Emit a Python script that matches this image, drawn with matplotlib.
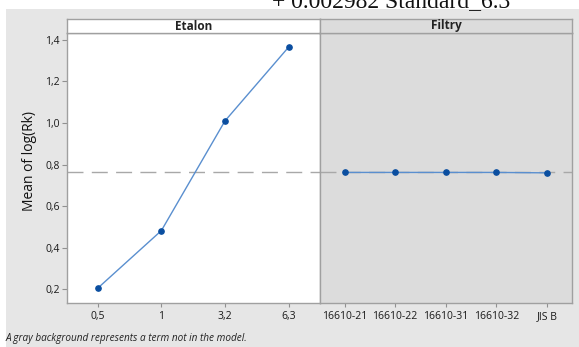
import matplotlib
matplotlib.use("Agg")
import matplotlib.pyplot as plt
from matplotlib.patches import Rectangle

# Data
etalon_labels = ["0,5", "1", "3,2", "6,3"]
etalon_means = [0.205, 0.482, 1.010, 1.365]
filtry_labels = ["16610-21", "16610-22", "16610-31", "16610-32", "JIS B"]
filtry_means = [0.762, 0.762, 0.762, 0.762, 0.760]
grand_mean = 0.762
y_ticks = [0.2, 0.4, 0.6, 0.8, 1.0, 1.2, 1.4]
y_ticklabels = ["0,2", "0,4", "0,6", "0,8", "1,0", "1,2", "1,4"]

W, H = 579, 347
fig = plt.figure(figsize=(W / 100, H / 100), dpi=100)
fig.patch.set_facecolor("white")
FONT = "Open Sans"

def fx(px):
    return px / W

def fy(py):
    return 1 - py / H

# gray background
fig.patches.append(Rectangle((fx(6), 0), 1 - fx(6), fy(9), transform=fig.transFigure,
                             facecolor="#e6e6e6", edgecolor="none", zorder=-10))

# top cut-off text
fig.text(fx(272), fy(7), "+ 0.002982 Standard_6.3", family="Liberation Serif",
         fontsize=17, ha="left", va="baseline", color="#111111", zorder=-5)

top, bot = 33, 303
strip_top = 19
ylim = (0.2 - (303 - 289) / 210.0, 1.4 + (40 - 33) / 210.0)

border = "#a0a0a0"
line_col = "#5a8fcf"
mk_col = "#0a4ea0"

def make_ax(x0, x1, face, strip_face, title, labels, values, xlim):
    ax = fig.add_axes([fx(x0), fy(bot), fx(x1) - fx(x0), fy(top) - fy(bot)])
    ax.set_facecolor(face)
    ax.set_ylim(*ylim)
    ax.set_xlim(*xlim)
    xs = list(range(len(labels)))
    ax.axhline(grand_mean, color="#a8a8a8", lw=1.0, dashes=(11.5, 6), zorder=1)
    ax.plot(xs, values, color=line_col, lw=1.0, zorder=2)
    ax.plot(xs, values, "o", color=mk_col, ms=3.8, zorder=3)
    ax.set_xticks(xs)
    ax.set_xticklabels(labels, family=FONT, fontsize=7.5, color="#1a1a1a")
    ax.tick_params(axis="x", length=3, color="#909090", pad=3)
    for s in ax.spines.values():
        s.set_color(border)
        s.set_linewidth(1.0)
    # strip
    sax = fig.add_axes([fx(x0), fy(top), fx(x1) - fx(x0), fy(strip_top) - fy(top)])
    sax.set_facecolor(strip_face)
    sax.set_xticks([])
    sax.set_yticks([])
    for s in sax.spines.values():
        s.set_color(border)
        s.set_linewidth(1.0)
    sax.text(0.5, 0.5, title, transform=sax.transAxes, ha="center", va="center",
             family=FONT, fontsize=8.5, fontweight="bold", color="#222222")
    return ax

ax1 = make_ax(67.3, 319.7, "white", "white", "Etalon", etalon_labels, etalon_means, (-0.48, 3.49))
ax1.set_yticks(y_ticks)
ax1.set_yticklabels(y_ticklabels, family=FONT, fontsize=7.5, color="#1a1a1a")
ax1.tick_params(axis="y", length=3.5, color="#909090", pad=2)
ax1.set_ylabel("Mean of log(Rk)", family=FONT, fontsize=10, color="#111111")
ax1.yaxis.set_label_coords(-0.122, 0.526)

ax2 = make_ax(319.7, 572.3, "#dcdcdc", "#dcdcdc", "Filtry", filtry_labels, filtry_means, (-0.49, 4.5))
ax2.set_yticks([])

fig.text(fx(6), fy(338), "A gray background represents a term not in the model.",
         family=FONT, fontsize=7.2, style="italic", ha="left", va="center", color="#222222")

fig.savefig("out.png", dpi=100, facecolor=fig.get_facecolor())
